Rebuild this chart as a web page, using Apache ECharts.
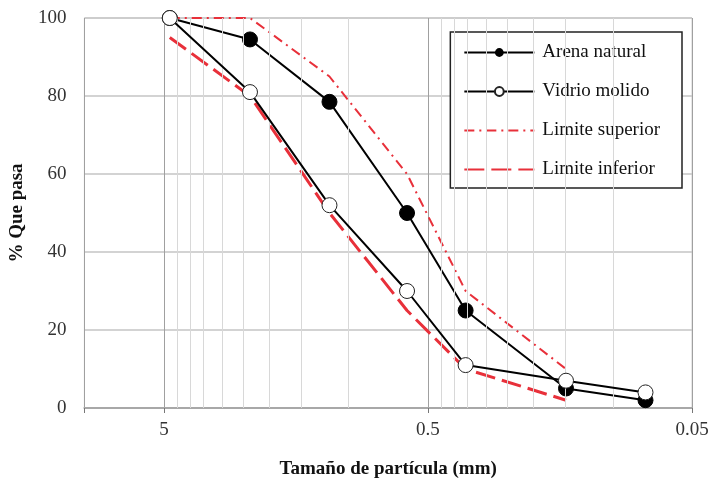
<!DOCTYPE html>
<html>
<head>
<meta charset="utf-8">
<script src="https://cdn.jsdelivr.net/npm/echarts@6/dist/echarts.min.js"></script>
<style>
  html, body { margin: 0; padding: 0; background: #fff; }
  #chart { width: 712px; height: 487px; }
</style>
</head>
<body>
<div id="chart"></div>
<script>
// particle sizes (mm) and % passing
const sizes = [4.75, 2.36, 1.18, 0.6, 0.36, 0.15, 0.075];
const arenaNatural = [100, 94.5, 78.5, 50, 25, 5, 2];
const vidrioMolido = [100, 81, 52, 30, 11, 7, 4];
const limiteSuperior = [100, 100, 85, 60, 30, 10];
const limiteInferior = [95, 80, 50, 25, 10, 2];
const xTickLabels = ["0.05", "0.5", "5"];
const seriesNames = ["Arena natural", "Vidrio molido", "Limite superior", "Limite inferior"];

// log axis built on a value axis: x = log10(size / 0.05)
const baseSize = 0.05;
const toX = d => Math.log10(d / baseSize);
const pairs = vals => vals.map((v, i) => [toX(sizes[i]), v]);

// minor vertical gridlines (Excel-style log minor units)
const minorGrid = [];
[baseSize, baseSize * 10].forEach(function (b) {
  for (let k = 2; k <= 9; k++) minorGrid.push({ xAxis: toX(b * k) });
});

const serif = "Liberation Serif, Times New Roman, serif";
const red = "#e8303a";

document.addEventListener("DOMContentLoaded", function () {
  const chart = echarts.init(document.getElementById("chart"));
  const option = {
    animation: false,
    grid: {
      left: 83, right: 20, top: 18, bottom: 79,
      show: true, borderColor: "#cfcfcf", borderWidth: 1
    },
    legend: {
      data: [
        { name: seriesNames[0] },
        { name: seriesNames[1] },
        { name: seriesNames[2], itemStyle: { opacity: 0 } },
        { name: seriesNames[3], itemStyle: { opacity: 0 } }
      ],
      orient: "vertical",
      right: 30,
      top: 32,
      backgroundColor: "#fff",
      borderColor: "#222",
      borderWidth: 1.5,
      padding: [11, 22, 9, 13],
      itemWidth: 70,
      itemHeight: 11,
      itemGap: 20,
      textStyle: { fontFamily: serif, fontSize: 19, color: "#111", padding: [0, 0, 0, 3] }
    },
    xAxis: {
      type: "value",
      inverse: true,
      min: 0,
      max: toX(10),
      interval: 1,
      name: "Tamaño de partícula (mm)",
      nameLocation: "middle",
      nameGap: 52,
      nameTextStyle: { fontFamily: serif, fontSize: 19, fontWeight: "bold", color: "#111" },
      axisLine: { show: true, lineStyle: { color: "#a8a8a8", width: 2 } },
      axisTick: { show: true, length: 5, lineStyle: { color: "#777" } },
      axisLabel: {
        margin: 13,
        fontFamily: serif, fontSize: 19, color: "#333",
        formatter: function (v) {
          const i = Math.round(v);
          return Math.abs(v - i) < 1e-6 ? xTickLabels[i] : "";
        }
      },
      splitLine: { show: true, lineStyle: { color: "#a0a0a0", width: 1 } }
    },
    yAxis: {
      type: "value",
      min: 0,
      max: 100,
      interval: 20,
      name: "% Que pasa",
      nameLocation: "middle",
      nameGap: 52,
      nameTextStyle: { fontFamily: serif, fontSize: 19, fontWeight: "bold", color: "#111" },
      axisLine: { show: false },
      axisTick: { show: false },
      axisLabel: { margin: 18, fontFamily: serif, fontSize: 19, color: "#333" },
      splitLine: { lineStyle: { color: "#c4c4c4", width: 1.5 } }
    },
    series: [
      {
        name: "minor-grid",
        type: "line",
        data: [],
        z: 1,
        silent: true,
        markLine: {
          silent: true,
          symbol: "none",
          label: { show: false },
          lineStyle: { color: "#d8d8d8", width: 1, type: "solid" },
          data: minorGrid
        }
      },
      {
        name: seriesNames[2],
        type: "line",
        data: pairs(limiteSuperior),
        symbol: "none",
        z: 3,
        lineStyle: { color: red, width: 2, type: [10, 5, 2, 5] },
        itemStyle: { color: red }
      },
      {
        name: seriesNames[3],
        type: "line",
        data: pairs(limiteInferior),
        symbol: "none",
        z: 3,
        lineStyle: { color: red, width: 3, type: [20, 7] },
        itemStyle: { color: red }
      },
      {
        name: seriesNames[0],
        type: "line",
        data: pairs(arenaNatural),
        symbol: "circle",
        symbolSize: 15,
        z: 4,
        lineStyle: { color: "#000", width: 2 },
        itemStyle: { color: "#000", borderColor: "#000" }
      },
      {
        name: seriesNames[1],
        type: "line",
        data: pairs(vidrioMolido),
        symbol: "circle",
        symbolSize: 15,
        z: 5,
        lineStyle: { color: "#000", width: 2 },
        itemStyle: { color: "#fff", borderColor: "#222", borderWidth: 1 }
      }
    ]
  };
  chart.setOption(option);
});
</script>
</body>
</html>
